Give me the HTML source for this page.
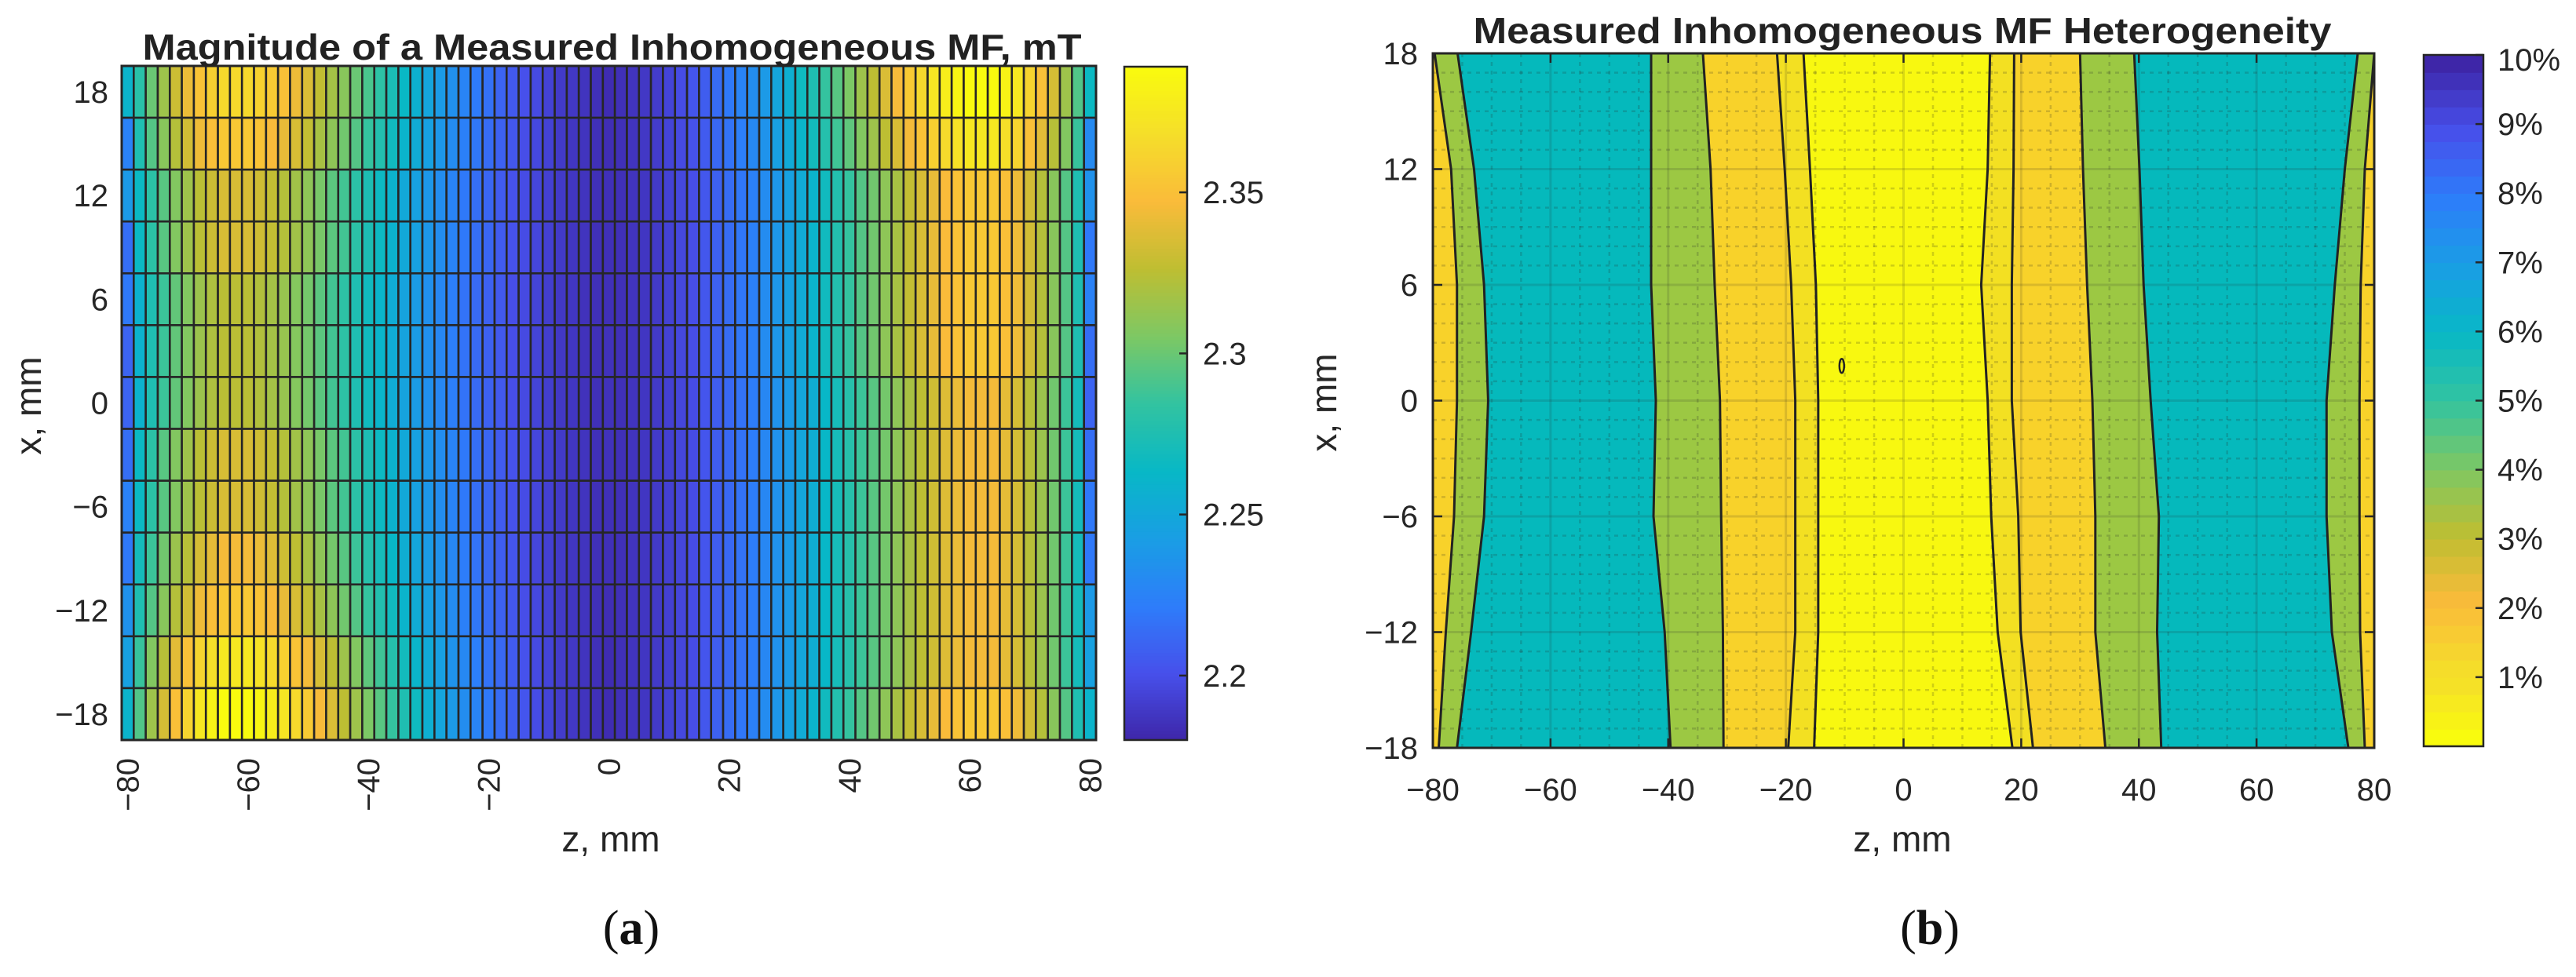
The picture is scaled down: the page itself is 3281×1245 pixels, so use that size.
<!DOCTYPE html>
<html><head><meta charset="utf-8"><style>
html,body{margin:0;padding:0;background:#fff;}
svg{display:block;font-family:"Liberation Sans",sans-serif;}
</style></head>
<body>
<svg id="fig" width="3281" height="1245" viewBox="0 0 3281 1245" xmlns="http://www.w3.org/2000/svg">
<g id="pa"></g>
<g id="pb"></g>
</svg>
<script>
// ---------- Panel (a) data: magnitude (values are mT minus 2, in 1e-3 mT) ----------
const aZ = []; // z positions -80..80 step 2 (81 columns)
for (let z = -80; z <= 80; z += 2) aZ.push(z);
const aX = [18,15,12,9,6,3,0,-3,-6,-9,-12,-15,-18];
const aXTicks = [18,12,6,0,-6,-12,-18];
const aZTicks = [-80,-60,-40,-20,0,20,40,60,80];
const aCbTicks = [2.2,2.25,2.3,2.35];
const aCbRange = [2.18,2.389];
const aRows = [
[260,280,300,316,331,342,352,360,365,365,365,361,356,351,343,336,327,318,309,300,291,282,273,264,257,248,241,234,226,221,216,210,205,201,198,194,190,189,187,185,183,185,187,189,191,195,199,203,207,214,220,226,232,240,248,256,267,275,285,295,305,316,326,336,346,356,365,373,379,385,389,389,389,383,375,362,350,334,316,293,265],
[225,275,294,309,323,333,343,350,355,355,355,352,347,341,335,328,319,311,302,294,285,277,268,260,253,245,238,231,224,219,214,209,204,200,197,194,190,188,187,185,184,185,187,189,191,195,198,202,206,212,217,223,229,236,244,252,261,269,278,288,297,307,316,326,335,345,352,360,366,371,375,375,375,369,362,350,339,324,307,286,230],
[240,265,281,295,307,316,325,331,335,335,335,332,328,323,317,311,304,296,289,281,274,266,259,251,245,238,232,226,220,215,211,206,202,199,196,193,190,188,187,185,185,185,187,188,190,194,197,200,204,209,214,219,224,231,238,245,253,260,268,277,285,294,302,311,319,328,335,341,347,352,355,355,355,350,343,333,323,309,294,275,235],
[215,265,281,295,307,316,325,331,335,335,335,332,328,323,317,311,304,296,289,281,274,266,259,251,245,238,232,226,220,215,211,206,202,199,196,193,190,188,187,185,185,185,187,188,190,194,197,200,204,209,214,219,224,231,238,245,253,260,268,277,285,294,302,311,319,328,335,341,347,352,355,355,355,350,343,333,323,309,294,275,220],
[220,259,275,287,298,307,315,321,325,325,325,322,318,314,308,303,296,289,282,275,268,261,254,247,241,234,228,223,217,213,209,205,200,198,195,192,189,188,186,185,185,185,187,188,190,194,197,200,204,209,214,219,224,231,238,245,253,260,268,277,285,294,302,311,319,328,335,341,347,352,355,355,355,350,343,333,323,309,294,275,225],
[210,259,275,287,298,307,315,321,325,325,325,322,318,314,308,303,296,289,282,275,268,261,254,247,241,234,228,223,217,213,209,205,200,198,195,192,189,188,186,185,186,185,187,188,190,194,197,200,204,209,214,219,224,231,238,245,253,260,268,277,285,294,302,311,319,328,335,341,347,352,355,355,355,350,343,333,323,309,294,275,215],
[210,259,275,287,298,307,315,321,325,325,325,322,318,314,308,303,296,289,282,275,268,261,254,247,241,234,228,223,217,213,209,205,200,198,195,192,189,188,186,185,186,185,187,188,190,193,196,199,203,207,212,217,222,228,235,241,249,255,263,271,279,287,295,303,311,319,326,332,337,342,345,345,345,340,334,324,315,302,287,270,210],
[215,265,281,295,307,316,325,331,335,335,335,332,328,323,317,311,304,296,289,281,274,266,259,251,245,238,232,226,220,215,211,206,202,199,196,193,190,188,187,185,186,185,187,188,190,193,196,199,203,207,212,217,222,228,235,241,249,255,263,271,279,287,295,303,311,319,326,332,337,342,345,345,345,340,334,324,315,302,287,270,215],
[225,265,281,295,307,316,325,331,335,335,335,332,328,323,317,311,304,296,289,281,274,266,259,251,245,238,232,226,220,215,211,206,202,199,196,193,190,188,187,185,185,185,187,188,190,193,196,199,203,207,212,217,222,228,235,241,249,255,263,271,279,287,295,303,311,319,326,332,337,342,345,345,345,340,334,324,315,302,287,270,220],
[220,270,287,302,315,324,334,340,345,345,345,342,337,332,326,319,311,303,295,287,279,271,263,255,249,241,235,228,222,217,212,207,203,199,196,193,190,188,187,185,185,185,187,188,190,193,196,199,203,207,212,217,222,228,235,241,249,255,263,271,279,287,295,303,311,319,326,332,337,342,345,345,345,340,334,324,315,302,287,270,220],
[235,275,294,309,323,333,343,350,355,355,355,352,347,341,335,328,319,311,302,294,285,277,268,260,253,245,238,231,224,219,214,209,204,200,197,194,190,188,187,185,184,185,187,188,190,193,196,199,203,207,212,217,222,228,235,241,249,255,263,271,279,287,295,303,311,319,326,332,337,342,345,345,345,340,334,324,315,302,287,270,240],
[245,286,307,324,339,350,362,369,375,375,375,371,366,360,352,345,335,326,316,307,297,288,278,269,261,252,244,236,229,223,217,212,206,202,198,195,191,189,187,185,183,185,187,188,190,193,196,199,203,207,212,217,222,228,235,241,249,255,263,271,279,287,295,303,311,319,326,332,337,342,345,345,345,340,334,324,315,302,287,270,245],
[260,293,316,334,350,362,375,383,389,389,389,385,379,373,365,356,346,336,326,316,305,295,285,275,267,256,248,240,232,226,220,214,207,203,199,195,191,189,187,185,183,185,187,188,190,194,197,200,204,209,214,219,224,231,238,245,253,260,268,277,285,294,302,311,319,328,335,341,347,352,355,355,355,350,343,333,323,309,294,275,260]
];

// ---------- Panel (b) data: contour boundaries (z in mm) at x levels ----------
const bXLevels = [18,12,6,0,-6,-12,-18];
const bB1  = [-79.7,-76.9,-75.9,-75.9,-76.4,-77.8,-79.0];
const bB2  = [-75.8,-73.0,-71.3,-70.6,-71.3,-73.5,-75.9];
const bB3  = [-42.9,-42.9,-42.9,-42.1,-42.5,-40.6,-39.6];
const bB4  = [-34.1,-32.8,-32.1,-31.2,-31.0,-30.7,-30.6];
const bB5  = [-21.5,-20.2,-19.1,-18.4,-18.4,-18.4,-19.6];
const bB6  = [-17.0,-15.9,-14.9,-14.5,-14.5,-14.5,-15.2];
const bB7  = [14.7,14.3,13.2,14.3,14.9,16.0,18.5];
const bB8  = [18.8,18.7,18.4,18.4,19.5,19.9,22.0];
const bB9  = [30.0,30.5,31.2,32.1,32.6,32.6,34.3];
const bB10 = [39.2,40.1,40.8,42.0,43.4,43.1,43.8];
const bB11 = [77.2,75.0,73.3,71.9,71.9,72.8,75.6];
const bB12 = [80.0,78.4,77.7,77.5,77.5,77.6,78.4];
const bRegionLevels = [1.5,3,5,3,1.5,0.75,0.25,0.75,1.5,3,5,3,1.5]; // % level of each band
const bZTicks = [-80,-60,-40,-20,0,20,40,60,80];
const bXTicks = [18,12,6,0,-6,-12,-18];
const bCbTicks = [1,2,3,4,5,6,7,8,9,10];
const bIsland = [-10.5,1.8];

const NS = "http://www.w3.org/2000/svg";
function mk(tag, attrs, parent, txt) {
  const e = document.createElementNS(NS, tag);
  for (const k in attrs) e.setAttribute(k, attrs[k]);
  if (txt !== undefined) e.textContent = txt;
  parent.appendChild(e);
  return e;
}
const P = [[0,62,38,168],[0.1,71,80,235],[0.2,45,125,250],[0.3,25,158,228],[0.4,8,184,198],[0.5,50,195,160],[0.6,125,200,100],[0.7,190,190,50],[0.8,250,187,58],[0.9,245,222,42],[1,249,251,14]];
function parula(t) {
  t = Math.max(0, Math.min(1, t));
  for (let i = 1; i < P.length; i++) if (t <= P[i][0]) {
    const a = P[i-1], b = P[i], f = (t - a[0]) / (b[0] - a[0]);
    return `rgb(${Math.round(a[1]+f*(b[1]-a[1]))},${Math.round(a[2]+f*(b[2]-a[2]))},${Math.round(a[3]+f*(b[3]-a[3]))})`;
  }
  return "rgb(249,251,14)";
}

// ================= Panel A =================
const ga = document.getElementById('pa');
const A = {L:155, R:1396, T:84, B:943};
const aColW = (A.R - A.L) / aZ.length, aRowH = (A.B - A.T) / aX.length;
const aXs = z => A.L + (z - aZ[0] + 1) / 2 * aColW;        // column center
const aYs = x => A.T + (aX[0] - x + 1.5) / 3 * aRowH;      // row center
const aNorm = v => (v - aCbRange[0]) / (aCbRange[1] - aCbRange[0]);
const cellsG = mk('g', {}, ga);


aRows.forEach((row, r) => {
  row.forEach((m, c) => {
    const v = 2 + m / 1000;
    const cx = aXs(aZ[c]), cy = aYs(aX[r]);
    const el = mk('rect', {x: cx - aColW/2, y: cy - aRowH/2, width: aColW, height: aRowH, fill: parula(aNorm(v)), stroke: '#262626', 'stroke-width': 2.6}, cellsG);
    
    
  });
});
mk('rect', {x: A.L, y: A.T, width: A.R - A.L, height: A.B - A.T, fill: 'none', stroke: '#262626', 'stroke-width': 3}, ga);
const aTitle = mk('text', {x: (A.L + A.R) / 2 + 4, y: 76, 'text-anchor': 'middle', 'font-size': 46, 'font-weight': 'bold', fill: '#222', textLength: 1196, lengthAdjust: 'spacingAndGlyphs'}, ga, 'Magnitude of a Measured Inhomogeneous MF, mT');


aXTicks.forEach(x => {
  const t = mk('text', {x: 138, y: aYs(x) + 14, 'text-anchor': 'end', 'font-size': 40, fill: '#262626'}, ga, String(x).replace('-', '\u2212'));
  
  
});
aZTicks.forEach(z => {
  const px = aXs(z);
  const t = mk('text', {x: 0, y: 0, 'text-anchor': 'end', 'font-size': 40, fill: '#262626', transform: `translate(${px + 14},${966}) rotate(-90)`}, ga, String(z).replace('-', '\u2212'));
  
  
});
const axl = mk('text', {x: 778, y: 1085, 'text-anchor': 'middle', 'font-size': 46, fill: '#262626'}, ga, 'z, mm');


const ayl = mk('text', {x: 0, y: 0, 'text-anchor': 'middle', 'font-size': 46, fill: '#262626', transform: 'translate(52,517) rotate(-90)'}, ga, 'x, mm');


// colorbar a
const CA = {L:1432, R:1512, T:85, B:943};
const cbA = mk('g', {}, ga);


for (let i = 0; i < 200; i++) {
  const y0 = CA.B - (i + 1) * (CA.B - CA.T) / 200;
  mk('rect', {x: CA.L, y: y0, width: CA.R - CA.L, height: (CA.B - CA.T) / 200 + 0.8, fill: parula((i + 0.5) / 200)}, cbA);
}
mk('rect', {x: CA.L, y: CA.T, width: CA.R - CA.L, height: CA.B - CA.T, fill: 'none', stroke: '#262626', 'stroke-width': 2.5}, cbA);
const cbAy = v => CA.B - aNorm(v) * (CA.B - CA.T);
aCbTicks.forEach(v => {
  mk('line', {x1: CA.R - 10, x2: CA.R, y1: cbAy(v), y2: cbAy(v), stroke: '#262626', 'stroke-width': 2.5}, cbA);
  const t = mk('text', {x: 1532, y: cbAy(v) + 14, 'font-size': 40, fill: '#262626'}, cbA, String(v));
  
  
});
const capA = mk('text', {x: 804, y: 1203, 'text-anchor': 'middle', 'font-size': 62, 'font-family': '"Liberation Serif",serif', fill: '#111'}, ga, '');
capA.innerHTML = '(<tspan font-weight="bold">a</tspan>)';



// ================= Panel B =================
const gb = document.getElementById('pb');
const B = {L:1825, R:3024, T:68, B:953};
const bXs = z => B.L + (z + 80) / 160 * (B.R - B.L);
const bYs = x => B.T + (18 - x) / 36 * (B.B - B.T);
const bLevelColor = lv => ({0.25:'#f8f810', 0.75:'#f3e022', 1.5:'#f8d22a', 3:'#9cc843', 5:'#05b9bc'})[lv];
const bounds = [bXLevels.map(() => -80), bB1, bB2, bB3, bB4, bB5, bB6, bB7, bB8, bB9, bB10, bB11, bB12, bXLevels.map(() => 80)];
const regG = mk('g', {}, gb);


for (let i = 0; i < bounds.length - 1; i++) {
  const pts = [];
  bXLevels.forEach((x, k) => pts.push(bXs(bounds[i][k]) + ',' + bYs(x)));
  for (let k = bXLevels.length - 1; k >= 0; k--) pts.push(bXs(bounds[i+1][k]) + ',' + bYs(bXLevels[k]));
  const el = mk('polygon', {points: pts.join(' '), fill: bLevelColor(bRegionLevels[i]), stroke: bLevelColor(bRegionLevels[i]), 'stroke-width': 1}, regG);
  
  
}
// grid
const grid = mk('g', {}, gb);


for (let z = -75; z < 80; z += 5) {
  const major = z % 20 === 0;
  mk('line', {x1: bXs(z), x2: bXs(z), y1: B.T, y2: B.B, stroke: major ? 'rgba(40,40,40,0.15)' : 'rgba(40,40,40,0.2)', 'stroke-width': major ? 3 : 2.5, 'stroke-dasharray': major ? '' : '5 6'}, grid);
}
for (let x = -17; x < 18; x += 1) {
  const major = x % 6 === 0;
  mk('line', {x1: B.L, x2: B.R, y1: bYs(x), y2: bYs(x), stroke: major ? 'rgba(40,40,40,0.15)' : 'rgba(40,40,40,0.2)', 'stroke-width': major ? 3 : 2.5, 'stroke-dasharray': major ? '' : '5 6'}, grid);
}
// contour lines
const lineG = mk('g', {}, gb);


bounds.slice(1, -1).forEach(bd => {
  const d = bXLevels.map((x, k) => (k ? 'L' : 'M') + bXs(bd[k]) + ',' + bYs(x)).join(' ');
  const el = mk('path', {d, fill: 'none', stroke: '#222', 'stroke-width': 3}, lineG);
  
  
});
const isl = mk('ellipse', {cx: bXs(bIsland[0]), cy: bYs(bIsland[1]), rx: 3, ry: 9, fill: 'none', stroke: '#222', 'stroke-width': 2.5}, lineG);


mk('rect', {x: B.L, y: B.T, width: B.R - B.L, height: B.B - B.T, fill: 'none', stroke: '#262626', 'stroke-width': 3}, gb);
bZTicks.forEach(z => {
  mk('line', {x1: bXs(z), x2: bXs(z), y1: B.B, y2: B.B - 12, stroke: '#262626', 'stroke-width': 2.5}, gb);
  mk('line', {x1: bXs(z), x2: bXs(z), y1: B.T, y2: B.T + 12, stroke: '#262626', 'stroke-width': 2.5}, gb);
  const t = mk('text', {x: bXs(z), y: 1020, 'text-anchor': 'middle', 'font-size': 40, fill: '#262626'}, gb, String(z).replace('-', '\u2212'));
  
  
});
bXTicks.forEach(x => {
  mk('line', {x1: B.L, x2: B.L + 12, y1: bYs(x), y2: bYs(x), stroke: '#262626', 'stroke-width': 2.5}, gb);
  mk('line', {x1: B.R, x2: B.R - 12, y1: bYs(x), y2: bYs(x), stroke: '#262626', 'stroke-width': 2.5}, gb);
  const t = mk('text', {x: 1806, y: bYs(x) + 14, 'text-anchor': 'end', 'font-size': 40, fill: '#262626'}, gb, String(x).replace('-', '\u2212'));
  
  
});
const bTitle = mk('text', {x: 2423, y: 55, 'text-anchor': 'middle', 'font-size': 46, 'font-weight': 'bold', fill: '#222', textLength: 1093, lengthAdjust: 'spacingAndGlyphs'}, gb, 'Measured Inhomogeneous MF Heterogeneity');


const bxl = mk('text', {x: 2423, y: 1085, 'text-anchor': 'middle', 'font-size': 46, fill: '#262626'}, gb, 'z, mm');


const byl = mk('text', {x: 0, y: 0, 'text-anchor': 'middle', 'font-size': 46, fill: '#262626', transform: 'translate(1702,513) rotate(-90)'}, gb, 'x, mm');


// colorbar b (0..10 %, 40 discrete bands)
const CB = {L:3087, R:3163, T:70, B:951};
const cbB = mk('g', {}, gb);


const cbBy = p => CB.B - p / 10 * (CB.B - CB.T);
for (let i = 0; i < 40; i++) {
  mk('rect', {x: CB.L, y: cbBy((i + 1) * 0.25), width: CB.R - CB.L, height: (CB.B - CB.T) / 40 + 0.8, fill: parula(i < 4 ? 1 - i * 0.03 : 1 - (i / 39))}, cbB);
}
mk('rect', {x: CB.L, y: CB.T, width: CB.R - CB.L, height: CB.B - CB.T, fill: 'none', stroke: '#262626', 'stroke-width': 2.5}, cbB);
bCbTicks.forEach(p => {
  mk('line', {x1: CB.R - 10, x2: CB.R, y1: cbBy(p), y2: cbBy(p), stroke: '#262626', 'stroke-width': 2.5}, cbB);
  const t = mk('text', {x: 3181, y: cbBy(p) + 14 + (p === 10 ? 6 : 0), 'font-size': 40, fill: '#262626'}, cbB, p + '%');
  
  
});
const capB = mk('text', {x: 2458, y: 1203, 'text-anchor': 'middle', 'font-size': 62, 'font-family': '"Liberation Serif",serif', fill: '#111'}, gb, '');
capB.innerHTML = '(<tspan font-weight="bold">b</tspan>)';


</script>
</body></html>
